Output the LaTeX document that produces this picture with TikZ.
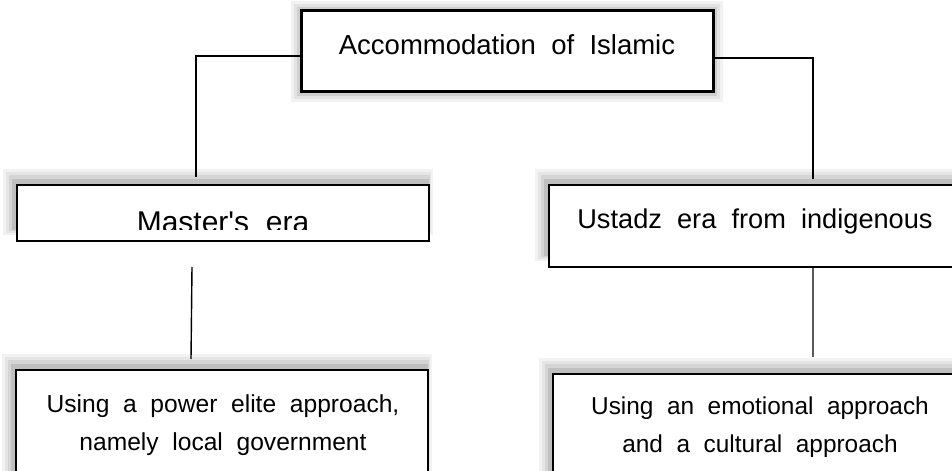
\documentclass[tikz,border=0pt]{standalone}
\usepackage{fontspec}
\setmainfont{Liberation Sans}[WordSpace=2]
\newcommand\uplshadow[4]{%
  \fill[gray!10] (#1-14,#2-16) rectangle (#3+4,#4-6);
  \fill[gray!20] (#1-11,#2-13) rectangle (#3+2,#4-8);
  \fill[gray!33] (#1-8,#2-10) rectangle (#3+1,#4-10);
  \fill[gray!50] (#1-5,#2-6) rectangle (#3,#4-11);
}
\newcommand\glowshadow[4]{%
  \fill[gray!10] (#1-10,#2-10) rectangle (#3+10,#4+10);
  \fill[gray!22] (#1-7,#2-7) rectangle (#3+7,#4+7);
  \fill[gray!38] (#1-4,#2-4) rectangle (#3+4,#4+4);
}
\begin{document}
\begin{tikzpicture}[x=1bp,y=-1bp,
  box/.style={draw=black, fill=white, line width=2bp, minimum width=412bp,
              inner sep=0pt, outer sep=0pt, anchor=north west},
  lbl/.style={anchor=base, inner sep=0pt, text=black},
  link/.style={draw=black, line width=1.4bp}]
\useasboundingbox (0,0) rectangle (952,471);
\clip (0,0) rectangle (952,471);
% shadows
\glowshadow{301}{11}{713}{92}
\uplshadow{17}{185}{429}{241}
\uplshadow{549}{185}{961}{267}
\uplshadow{16}{370}{428}{520}
\uplshadow{553}{374}{965}{520}
% boxes
\node[box, line width=3bp, minimum height=81bp] (top) at (301,11) {};
\node[box, minimum height=56bp] (master) at (17,185) {};
\node[box, minimum height=82bp] (ustadz) at (549,185) {};
\node[box, minimum height=150bp] (bl) at (16,370) {};
\node[box, minimum height=150bp] (br) at (553,374) {};
% texts
\node[lbl, font=\fontsize{27.5bp}{32bp}\selectfont] (ttop) at (507,55) {Accommodation of Islamic};
\begin{scope}
  \clip (17,185) rectangle (429,230);
  \node[lbl, font=\fontsize{30bp}{34bp}\selectfont] (tmaster) at (223,233) {Master\textquotesingle s era};
\end{scope}
\node[lbl, font=\fontsize{27.2bp}{32bp}\selectfont] (tustadz) at (755,229) {Ustadz era from indigenous};
\node[lbl, font=\fontsize{24.6bp}{29bp}\selectfont] (tbl1) at (223,412) {Using a power elite approach,};
\node[lbl, font=\fontsize{24.6bp}{29bp}\selectfont] (tbl2) at (223,450) {namely local government};
\node[lbl, font=\fontsize{24.4bp}{29bp}\selectfont] (tbr1) at (760,414) {Using an emotional approach};
\node[lbl, font=\fontsize{24.4bp}{29bp}\selectfont] (tbr2) at (760,452) {and a cultural approach};
% connectors
\coordinate (lend) at ([xshift=-27bp,yshift=8bp]master.north);
\coordinate (rend) at ([xshift=58bp,yshift=6bp]ustadz.north);
\draw[link] ([yshift=-4.5bp]top.west) -| (lend);
\draw[link] ([yshift=-6.5bp]top.east) -| (rend);
\coordinate (ms) at ([xshift=-31bp,yshift=-26bp]master.south);
\coordinate (blt) at ([xshift=-31bp,yshift=11bp]bl.north);
\draw[link] (ms) -- (blt);
\coordinate (brt) at ([xshift=54bp,yshift=17bp]br.north);
\draw[link] ([xshift=58bp]ustadz.south) -- (brt);
\end{tikzpicture}
\end{document}
